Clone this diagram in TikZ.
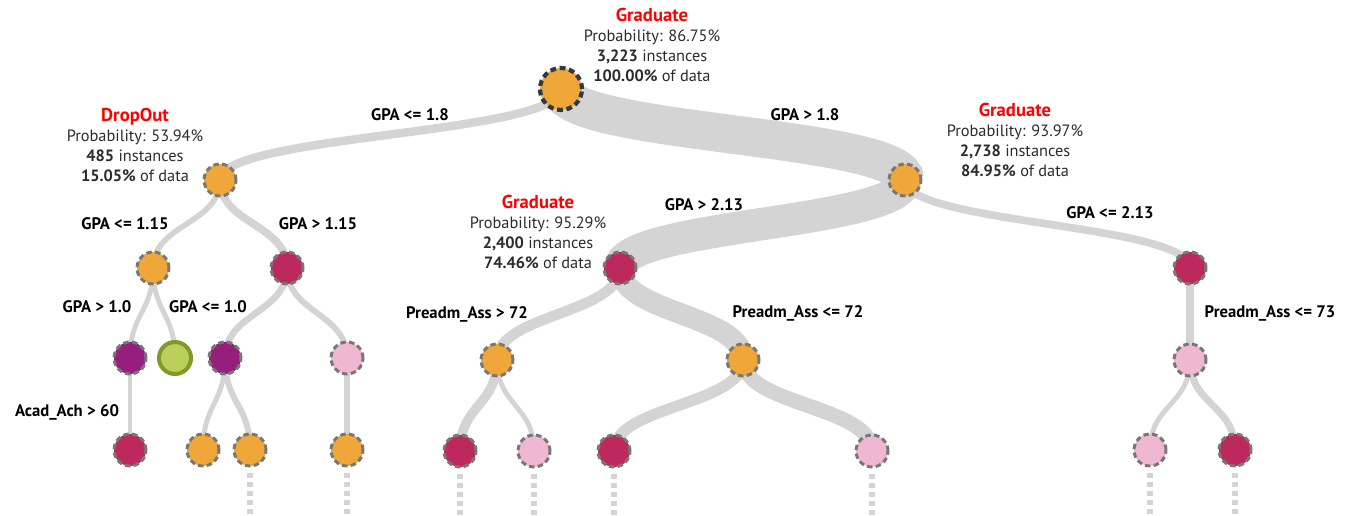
\documentclass[tikz,border=0pt]{standalone}
\usepackage{fontspec}
\setmainfont{PT Sans}
\usepackage{tikz}
\usetikzlibrary{calc,backgrounds}
\definecolor{gold}{HTML}{EFA73A}
\definecolor{berry}{HTML}{BD285D}
\definecolor{plum}{HTML}{961E7D}
\definecolor{blush}{HTML}{EFB7D2}
\definecolor{lime}{HTML}{BCCF5B}
\definecolor{olive}{HTML}{7F9A28}
\definecolor{rim}{HTML}{777777}
\definecolor{band}{HTML}{D4D4D4}
\definecolor{navy}{HTML}{2E3A44}
\definecolor{hdr}{HTML}{FF0000}
\definecolor{ink}{HTML}{2B2B2B}

% split band from parent to child, width in pt
\newcommand{\link}[3]{%
  \path ($(#1)!.5!(#2)$) coordinate (mid);
  \draw[edge,line width=#3] (#1.center) .. controls (#1.center |- mid) and (#2.center |- mid) .. (#2.center);}
\newcommand{\cls}[1]{{\color{hdr}\bfseries\fontsize{10.6}{11.5}\selectfont #1}}

\begin{document}
\begin{tikzpicture}[
  x=0.02cm,y=-0.02cm,
  dot/.style={circle,draw=rim,line width=1.7pt,dash pattern=on 3.1pt off 1.9pt,
              minimum size=0.64cm,inner sep=0pt},
  top/.style={dot,draw=navy,line width=2.4pt,dash pattern=on 3.3pt off 2.1pt,minimum size=0.84cm},
  pure/.style={dot,draw=olive,solid,line width=2.3pt,fill=lime},
  info/.style={align=center,text=ink,font=\fontsize{9.3}{11.5}\selectfont},
  cond/.style={text=black,font=\bfseries\fontsize{9.5}{10}\selectfont},
  edge/.style={draw=band},
  stub/.style={draw=band,line width=2.9pt,dash pattern=on 2.8pt off 2.2pt}
]
\useasboundingbox (0,0) rectangle (1357,516);

% nodes
\node[top,fill=gold] (root) at (561,89) {};
\node[dot,fill=gold] (dr) at (220,180) {};
\node[dot,fill=gold] (gr) at (905,180) {};
\node[dot,fill=gold] (dra) at (153,268) {};
\node[dot,fill=berry] (drb) at (287,268) {};
\node[dot,fill=plum] (draa) at (130,358) {};
\node[pure] (drab) at (175,358) {};
\node[dot,fill=plum] (drba) at (225,358) {};
\node[dot,fill=blush] (drbb) at (347,358) {};
\node[dot,fill=berry] (draaa) at (130,450) {};
\node[dot,fill=gold] (drbaa) at (203,450) {};
\node[dot,fill=gold] (drbab) at (250,450) {};
\node[dot,fill=gold] (drbba) at (347,450) {};
\node[dot,fill=berry] (gra) at (620,268) {};
\node[dot,fill=berry] (grb) at (1190,268) {};
\node[dot,fill=gold] (graa) at (497,360) {};
\node[dot,fill=gold] (grab) at (743,360) {};
\node[dot,fill=berry] (graaa) at (460,451) {};
\node[dot,fill=blush] (graab) at (534,451) {};
\node[dot,fill=berry] (graba) at (614,451) {};
\node[dot,fill=blush] (grabb) at (872,451) {};
\node[dot,fill=blush] (grba) at (1190,360) {};
\node[dot,fill=blush] (grbaa) at (1150,450) {};
\node[dot,fill=berry] (grbab) at (1235,450) {};

% bands
\begin{scope}[on background layer]
\link{root}{dr}{4.8pt}
\link{root}{gr}{22pt}
\link{dr}{dra}{3.2pt}
\link{dr}{drb}{4.4pt}
\link{dra}{draa}{2.8pt}
\link{dra}{drab}{2.8pt}
\link{draa}{draaa}{2.8pt}
\link{drb}{drba}{3.8pt}
\link{drb}{drbb}{3.4pt}
\link{drba}{drbaa}{2.8pt}
\link{drba}{drbab}{3.4pt}
\link{drbb}{drbba}{3.4pt}
\link{gr}{gra}{18.5pt}
\link{gr}{grb}{4.4pt}
\link{gra}{graa}{6pt}
\link{gra}{grab}{12pt}
\link{graa}{graaa}{5.4pt}
\link{graa}{graab}{2.8pt}
\link{grab}{graba}{6.4pt}
\link{grab}{grabb}{8.4pt}
\link{grb}{grba}{4.4pt}
\link{grba}{grbaa}{2.8pt}
\link{grba}{grbab}{4pt}
\foreach \n in {drbab,drbba,graaa,graab,graba,grabb,grbaa,grbab}
  \draw[stub] ([yshift=-3.4pt]\n.south) -- ++(0,43);
\end{scope}

% node info
\node[info] (iroot) at (652,45) {\cls{Graduate}\\Probability: 86.75\%\\
  \textbf{3,223} instances\\\textbf{100.00\%} of data};
\node[info] (idr) at (135,145) {\cls{DropOut}\\Probability: 53.94\%\\
  \textbf{485} instances\\\textbf{15.05\%} of data};
\node[info] (igr) at (1015,140) {\cls{Graduate}\\Probability: 93.97\%\\
  \textbf{2,738} instances\\\textbf{84.95\%} of data};
\node[info] (igra) at (538,232) {\cls{Graduate}\\Probability: 95.29\%\\
  \textbf{2,400} instances\\\textbf{74.46\%} of data};

% split conditions
\node[cond] at (410,115) {GPA <= 1.8};
\node[cond] at (805,115) {GPA > 1.8};
\node[cond] at (125,224) {GPA <= 1.15};
\node[cond] at (318,224) {GPA > 1.15};
\node[cond] at (97,307) {GPA > 1.0};
\node[cond] at (208,307) {GPA <= 1.0};
\node[cond] at (67,412) {Acad\_Ach > 60};
\node[cond] at (704,205) {GPA > 2.13};
\node[cond] at (1110,213) {GPA <= 2.13};
\node[cond] at (467,314) {Preadm\_Ass > 72};
\node[cond] at (798,313) {Preadm\_Ass <= 72};
\node[cond] at (1270,313) {Preadm\_Ass <= 73};
\end{tikzpicture}
\end{document}
